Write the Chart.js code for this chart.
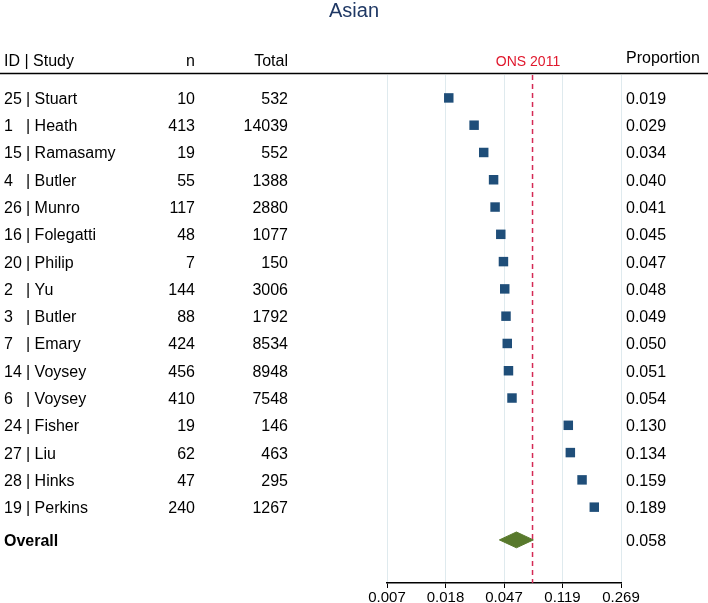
<!DOCTYPE html>
<html>
<head>
<meta charset="utf-8">
<script src="https://cdn.jsdelivr.net/npm/chart.js@4"></script>
<style>
  body { margin: 0; background: #fff; }
  #wrap { width: 708px; height: 603px; }
</style>
</head>
<body>
<div id="wrap"><canvas id="forest" width="708" height="603"></canvas></div>
<script>
// study rows, top to bottom
let ids = [25, 1, 15, 4, 26, 16, 20, 2, 3, 7, 14, 6, 24, 27, 28, 19];
let studies = ["Stuart", "Heath", "Ramasamy", "Butler", "Munro", "Folegatti", "Philip", "Yu",
  "Butler", "Emary", "Voysey", "Voysey", "Fisher", "Liu", "Hinks", "Perkins"];
let nCases = [10, 413, 19, 55, 117, 48, 7, 144, 88, 424, 456, 410, 19, 62, 47, 240];
let totals = [532, 14039, 552, 1388, 2880, 1077, 150, 3006, 1792, 8534, 8948, 7548, 146, 463, 295, 1267];
let proportions = [0.019, 0.029, 0.034, 0.040, 0.041, 0.045, 0.047, 0.048, 0.049, 0.050,
  0.051, 0.054, 0.130, 0.134, 0.159, 0.189];

// pooled estimate and reference line
let overall = 0.058;
let overallLow = 0.044;
let overallHigh = 0.076;
let onsValue = 0.075;

// axis ticks are on logit scale
let tickLogits = [-5, -4, -3, -2, -1];

let overallRow = 16.2;
let yMin = -0.84;
let yMax = 17.78;
let diamondHalf = 0.29;

function logit(p) {
  return Math.log(p / (1 - p));
}
function invLogit(v) {
  return 1 / (1 + Math.exp(-v));
}

Chart.defaults.font.family = "'Liberation Sans', Arial, sans-serif";

// texts around the plot, placed with the y scale
const tablePlugin = {
  id: "tableText",
  afterDraw(chart) {
    const ctx = chart.ctx;
    const y = chart.scales.y;
    ctx.save();

    ctx.fillStyle = "#1f3864";
    ctx.font = "20px 'Liberation Sans', Arial, sans-serif";
    ctx.textAlign = "center";
    ctx.textBaseline = "alphabetic";
    ctx.fillText("Asian", 354, 17);

    ctx.fillStyle = "#000";
    ctx.font = "16px 'Liberation Sans', Arial, sans-serif";
    ctx.textAlign = "left";
    ctx.fillText("ID | Study", 4, 66);
    ctx.textAlign = "right";
    ctx.fillText("n", 195, 66);
    ctx.fillText("Total", 288, 66);
    ctx.textAlign = "left";
    ctx.fillText("Proportion", 626, 63);

    ctx.fillStyle = "#e0182d";
    ctx.font = "14px 'Liberation Sans', Arial, sans-serif";
    ctx.textAlign = "center";
    ctx.fillText("ONS 2011", 528, 66);

    ctx.strokeStyle = "#000";
    ctx.lineWidth = 1.5;
    ctx.beginPath();
    ctx.moveTo(0, 73.5);
    ctx.lineTo(708, 73.5);
    ctx.stroke();

    ctx.fillStyle = "#000";
    ctx.font = "16px 'Liberation Sans', Arial, sans-serif";
    studies.forEach((name, i) => {
      let py = y.getPixelForValue(i) + 6;
      ctx.textAlign = "left";
      ctx.fillText(String(ids[i]), 4, py);
      ctx.fillText("| " + name, 26, py);
      ctx.textAlign = "right";
      ctx.fillText(String(nCases[i]), 195, py);
      ctx.fillText(String(totals[i]), 288, py);
      ctx.textAlign = "left";
      ctx.fillText(proportions[i].toFixed(3), 626, py);
    });

    let oy = y.getPixelForValue(overallRow) + 6;
    ctx.font = "bold 16px 'Liberation Sans', Arial, sans-serif";
    ctx.fillText("Overall", 4, oy);
    ctx.font = "16px 'Liberation Sans', Arial, sans-serif";
    ctx.fillText(overall.toFixed(3), 626, oy);

    ctx.restore();
  }
};

let studyPoints = proportions.map((p, i) => ({ x: logit(p), y: i }));
let diamondPoints = [
  { x: logit(overallLow), y: overallRow },
  { x: logit(overall), y: overallRow - diamondHalf },
  { x: logit(overallHigh), y: overallRow },
  { x: logit(overall), y: overallRow + diamondHalf },
  { x: logit(overallLow), y: overallRow }
];
let onsPoints = [
  { x: logit(onsValue), y: yMin },
  { x: logit(onsValue), y: yMax }
];

new Chart(document.getElementById("forest"), {
  type: "scatter",
  data: {
    datasets: [
      {
        data: onsPoints,
        showLine: true,
        borderColor: "#d42a55",
        borderWidth: 1.5,
        borderDash: [5, 4],
        pointRadius: 0
      },
      {
        data: studyPoints,
        pointStyle: "rect",
        pointRadius: 6.7,
        backgroundColor: "#1f4e79",
        borderWidth: 0
      },
      {
        data: diamondPoints,
        showLine: true,
        fill: "shape",
        backgroundColor: "#58792c",
        borderColor: "#58792c",
        borderWidth: 1,
        pointRadius: 0,
        tension: 0
      }
    ]
  },
  options: {
    responsive: false,
    animation: false,
    events: [],
    layout: { padding: { left: 387, right: 87, top: 75, bottom: 0 } },
    plugins: {
      legend: { display: false },
      tooltip: { enabled: false },
      title: { display: false }
    },
    scales: {
      x: {
        type: "linear",
        min: -5,
        max: -1,
        afterBuildTicks(scale) {
          scale.ticks = tickLogits.map((v) => ({ value: v }));
        },
        afterFit(scale) {
          scale.height = 20;
        },
        ticks: {
          color: "#000",
          padding: 1,
          font: { size: 15 },
          maxRotation: 0,
          callback: (v) => invLogit(v).toFixed(3)
        },
        grid: {
          color: "#dfeaee",
          lineWidth: 1,
          tickColor: "#000",
          tickLength: 5
        },
        border: { color: "#000", width: 1.5 }
      },
      y: {
        type: "linear",
        display: false,
        reverse: true,
        min: yMin,
        max: yMax
      }
    }
  },
  plugins: [tablePlugin]
});
</script>
</body>
</html>
